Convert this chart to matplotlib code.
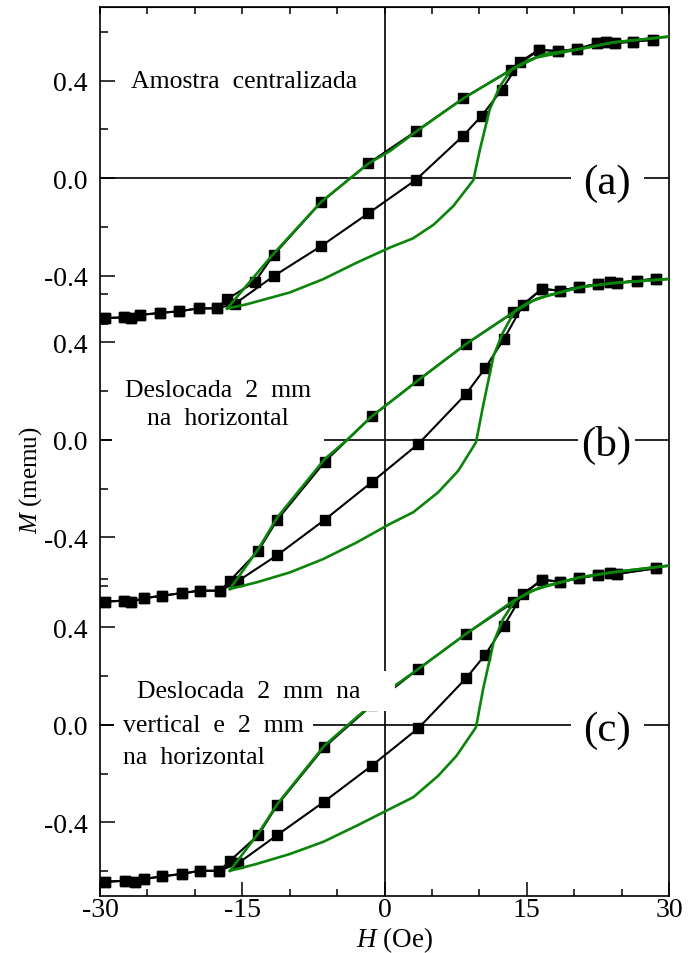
import matplotlib
matplotlib.use("Agg")
import matplotlib.pyplot as plt
from matplotlib.ticker import FixedLocator, FixedFormatter, MultipleLocator

plt.rcParams['font.family'] = ['Liberation Serif', 'DejaVu Serif']
plt.rcParams['mathtext.fontset'] = 'custom'
plt.rcParams['mathtext.rm'] = 'Liberation Serif'
plt.rcParams['mathtext.it'] = 'Liberation Serif:italic'
plt.rcParams['axes.unicode_minus'] = False

# ---------------- (a) Amostra centralizada ----------------
a_h_desc = [28.3, 26.2, 24.3, 23.4, 22.4, 20.3, 18.3, 16.3, 13.3, 8.3, 3.3, -1.7, -6.7, -11.7,
            -13.7, -16.6, -17.7, -19.6, -21.7, -23.7, -25.8, -26.7, -27.5, -29.5]
a_m_desc = [0.568, 0.560, 0.555, 0.560, 0.553, 0.530, 0.521, 0.527, 0.444, 0.328, 0.192, 0.061,
            -0.099, -0.315, -0.427, -0.496, -0.534, -0.534, -0.546, -0.553, -0.561, -0.575, -0.571, -0.574]
a_h_asc = [-29.5, -27.5, -26.7, -25.8, -23.7, -21.7, -19.6, -17.7, -15.8, -11.7, -6.7, -1.7, 3.3,
           8.3, 10.25, 12.36, 14.3, 16.3, 18.3, 20.3, 22.4, 23.4, 24.3, 26.2, 28.3]
a_m_asc = [-0.574, -0.571, -0.575, -0.561, -0.553, -0.546, -0.534, -0.534, -0.516, -0.402, -0.279,
           -0.144, -0.007, 0.174, 0.256, 0.363, 0.478, 0.527, 0.521, 0.530, 0.553, 0.560, 0.555, 0.560, 0.568]
a_sim_h_desc = [30, 24.1, 20.6, 16.0, 13.3, 8.3, 3.3, 0.6, -1.7, -6.7, -11.7, -16.6]
a_sim_m_desc = [0.581, 0.557, 0.530, 0.495, 0.443, 0.327, 0.190, 0.112, 0.060, -0.098, -0.310, -0.535]
a_sim_h_asc = [-16.6, -14.5, -10.0, -6.45, -2.9, 0.6, 3.0, 5.2, 7.26, 9.37, 10.07, 11.1, 12.2,
               13.4, 15.0, 17.0, 20.6, 24.1, 30]
a_sim_m_asc = [-0.535, -0.517, -0.469, -0.414, -0.346, -0.284, -0.247, -0.190, -0.114, -0.008,
               0.119, 0.283, 0.379, 0.447, 0.481, 0.510, 0.530, 0.557, 0.581]

# ---------------- (b) Deslocada 2 mm na horizontal ----------------
b_h_desc = [28.6, 26.6, 24.5, 23.8, 22.5, 20.5, 18.5, 16.6, 13.6, 8.6, 3.57, -1.35, -6.3, -11.3,
            -13.3, -16.3, -17.3, -19.5, -21.4, -23.5, -25.4, -26.7, -27.5, -29.5]
b_m_desc = [0.660, 0.653, 0.643, 0.646, 0.639, 0.626, 0.612, 0.619, 0.523, 0.393, 0.245, 0.096,
            -0.090, -0.328, -0.455, -0.578, -0.619, -0.619, -0.629, -0.640, -0.650, -0.664, -0.660, -0.664]
b_h_asc = [-29.5, -27.5, -26.7, -25.4, -23.5, -21.4, -19.5, -17.3, -15.4, -11.3, -6.3, -1.35, 3.57,
           8.6, 10.6, 12.6, 14.6, 16.6, 18.5, 20.5, 22.5, 23.8, 24.5, 26.6, 28.6]
b_m_asc = [-0.664, -0.660, -0.664, -0.650, -0.640, -0.629, -0.619, -0.619, -0.578, -0.473, -0.328,
           -0.174, -0.017, 0.188, 0.293, 0.414, 0.553, 0.619, 0.612, 0.626, 0.639, 0.646, 0.643, 0.653, 0.660]
b_sim_h_desc = [30, 24.1, 20.6, 16.0, 13.6, 8.6, 3.57, 0.58, -1.35, -4.0, -6.3, -11.3, -13.3, -16.3]
b_sim_m_desc = [0.660, 0.643, 0.626, 0.578, 0.523, 0.393, 0.245, 0.154, 0.096, -0.002, -0.079,
                -0.318, -0.448, -0.612]
b_sim_h_asc = [-16.3, -13.5, -9.97, -6.45, -2.93, 0.58, 3.04, 5.67, 7.78, 9.65, 10.4, 11.5, 12.5,
               13.76, 15.2, 17.1, 20.6, 24.1, 30]
b_sim_m_asc = [-0.612, -0.585, -0.544, -0.489, -0.421, -0.345, -0.297, -0.215, -0.127, -0.010,
               0.140, 0.345, 0.441, 0.530, 0.564, 0.591, 0.626, 0.643, 0.660]

# ---------------- (c) Deslocada 2 mm na vertical e 2 mm na horizontal ----------------
c_h_desc = [28.6, 24.5, 23.8, 22.5, 20.5, 18.5, 16.6, 13.6, 8.6, 3.57, -1.35, -6.35, -11.3,
            -13.3, -16.3, -17.4, -19.5, -21.4, -23.5, -25.4, -26.3, -27.4, -29.5]
c_m_desc = [0.642, 0.619, 0.622, 0.615, 0.601, 0.587, 0.595, 0.503, 0.373, 0.229, 0.080, -0.092,
            -0.329, -0.452, -0.558, -0.599, -0.599, -0.612, -0.622, -0.633, -0.644, -0.640, -0.644]
c_h_asc = [-29.5, -27.4, -26.3, -25.4, -23.5, -21.4, -19.5, -17.4, -15.4, -11.3, -6.35, -1.35, 3.57,
           8.6, 10.6, 12.6, 14.6, 16.6, 18.5, 20.5, 22.5, 23.8, 24.5, 28.6]
c_m_asc = [-0.644, -0.640, -0.644, -0.633, -0.622, -0.612, -0.599, -0.599, -0.567, -0.452, -0.315,
           -0.168, -0.014, 0.191, 0.286, 0.407, 0.537, 0.595, 0.587, 0.601, 0.615, 0.622, 0.619, 0.642]
c_sim_h_desc = [30, 24.1, 20.6, 16.0, 13.6, 8.6, 3.57, 0.9, -2.93, -6.35, -11.3, -13.3, -16.3]
c_sim_m_desc = [0.653, 0.626, 0.605, 0.557, 0.509, 0.373, 0.229, 0.155, 0.031, -0.086, -0.325,
                -0.445, -0.599]
c_sim_h_asc = [-16.3, -13.5, -9.97, -6.45, -2.93, 0.58, 3.04, 5.67, 7.6, 9.65, 10.4, 11.5, 12.5,
               13.76, 15.2, 17.1, 20.6, 24.1, 30]
c_sim_m_asc = [-0.599, -0.571, -0.530, -0.480, -0.414, -0.345, -0.297, -0.209, -0.127, -0.010,
               0.147, 0.338, 0.434, 0.509, 0.544, 0.571, 0.605, 0.626, 0.653]

x_major = [-30, -15, 0, 15, 30]
y_major = [-0.4, 0.0, 0.4]
y_major_labels = ['-0.4', '0.0', '0.4']
y_minor = [-0.6, -0.2, 0.2, 0.6]

GREEN = '#0a850a'
FS_TICK = 20
FS_NOTE = 18.5
FS_TAG = 31

# ---------------- layout (pixels) ----------------
W, HP = 690, 954
L, R, T, B = 100, 669, 8, 897
SCALE = 243.75                      # pixels per memu in every panel
zeros_px = [179.2, 440.8, 725.8]    # vertical position of M = 0 in each panel

fig = plt.figure(figsize=(W / 100, HP / 100), dpi=100)
rect = [L / W, 1 - B / HP, (R - L) / W, (B - T) / HP]

frame = fig.add_axes(rect)
frame.set_xlim(-30, 30)
frame.set_ylim(0, 1)
frame.set_yticks([])
frame.xaxis.set_major_locator(FixedLocator(x_major))
frame.xaxis.set_minor_locator(MultipleLocator(5))
frame.tick_params(axis='x', which='both', direction='in', labelsize=FS_TICK, pad=1, width=1.1)
frame.tick_params(axis='x', which='major', length=10)
frame.tick_params(axis='x', which='minor', length=5)
for s in frame.spines.values():
    s.set_linewidth(1.2)
frame.axvline(0, color='k', lw=1.2, zorder=1)

top = frame.secondary_xaxis('top')
top.set_xticks(list(range(-30, 31, 5)))
top.tick_params(direction='in', length=5, width=1.1, labeltop=False)

panels = [
    (a_h_desc, a_m_desc, a_h_asc, a_m_asc, a_sim_h_desc, a_sim_m_desc, a_sim_h_asc, a_sim_m_asc),
    (b_h_desc, b_m_desc, b_h_asc, b_m_asc, b_sim_h_desc, b_sim_m_desc, b_sim_h_asc, b_sim_m_asc),
    (c_h_desc, c_m_desc, c_h_asc, c_m_asc, c_sim_h_desc, c_sim_m_desc, c_sim_h_asc, c_sim_m_asc),
]
axes = []
for z, data in zip(zeros_px, panels):
    ax = fig.add_axes(rect)
    ax.patch.set_visible(False)
    for s in ax.spines.values():
        s.set_visible(False)
    ax.xaxis.set_visible(False)
    ax.set_xlim(-30, 30)
    ax.set_ylim((z - B) / SCALE, (z - T) / SCALE)
    ax.yaxis.set_major_locator(FixedLocator(y_major))
    ax.yaxis.set_major_formatter(FixedFormatter(y_major_labels))
    ax.yaxis.set_minor_locator(FixedLocator(y_minor))
    ax.tick_params(axis='y', which='both', direction='in', width=1.1, labelsize=FS_TICK, pad=9)
    ax.tick_params(axis='y', which='major', length=11)
    ax.tick_params(axis='y', which='minor', length=6)

    hd, md, ha_, ma_, shd, smd, sha, sma = data
    ax.axhline(0, color='k', lw=1.2, zorder=1)
    for hh, mm in ((hd, md), (ha_, ma_)):
        ax.plot(hh, mm, color='k', lw=1.5, marker='s', ms=7.9, zorder=3)
    for hh, mm in ((shd, smd), (sha, sma)):
        ax.plot(hh, mm, color=GREEN, lw=1.9, zorder=4)
    axes.append(ax)

ax_a, ax_b, ax_c = axes
white = dict(facecolor='white', edgecolor='none')

ax_a.text(-14.8, 0.374, 'Amostra  centralizada', fontsize=FS_NOTE, ha='center', va='baseline', zorder=6)
ax_a.text(23.5, -0.02, '(a)', fontsize=FS_TAG, ha='center', va='center', zorder=6,
          bbox=dict(boxstyle='square,pad=0.3', **white))

ax_b.text(-17.6, 0.147, 'Deslocada  2  mm\nna  horizontal', fontsize=FS_NOTE, ha='center',
          va='center', multialignment='center', linespacing=1.3, zorder=6,
          bbox=dict(boxstyle='square,pad=0.5', **white))
ax_b.text(23.4, -0.02, '(b)', fontsize=FS_TAG, ha='center', va='center', zorder=6,
          bbox=dict(boxstyle='square,pad=0.08', **white))

ax_c.text(-26.1, 0.114, 'Deslocada  2  mm  na    ', fontsize=FS_NOTE, ha='left', va='baseline',
          zorder=6, bbox=dict(boxstyle='square,pad=0.35', **white))
ax_c.text(-27.6, -0.025, 'vertical  e  2  mm', fontsize=FS_NOTE, ha='left', va='baseline',
          zorder=7, bbox=dict(boxstyle='square,pad=0.35', **white))
ax_c.text(-27.6, -0.156, 'na  horizontal', fontsize=FS_NOTE, ha='left', va='baseline',
          zorder=8, bbox=dict(boxstyle='square,pad=0.35', **white))
ax_c.text(23.5, -0.02, '(c)', fontsize=FS_TAG, ha='center', va='center', zorder=6,
          bbox=dict(boxstyle='square,pad=0.3', **white))

fig.text(395 / W, 1 - 947.5 / HP, r'$H$ (Oe)', fontsize=19.5, ha='center', va='baseline')
fig.text(31 / W, 1 - 480 / HP, r'$M$ (memu)', fontsize=18, rotation=90, ha='center', va='center')

fig.savefig('out.png', dpi=100)
